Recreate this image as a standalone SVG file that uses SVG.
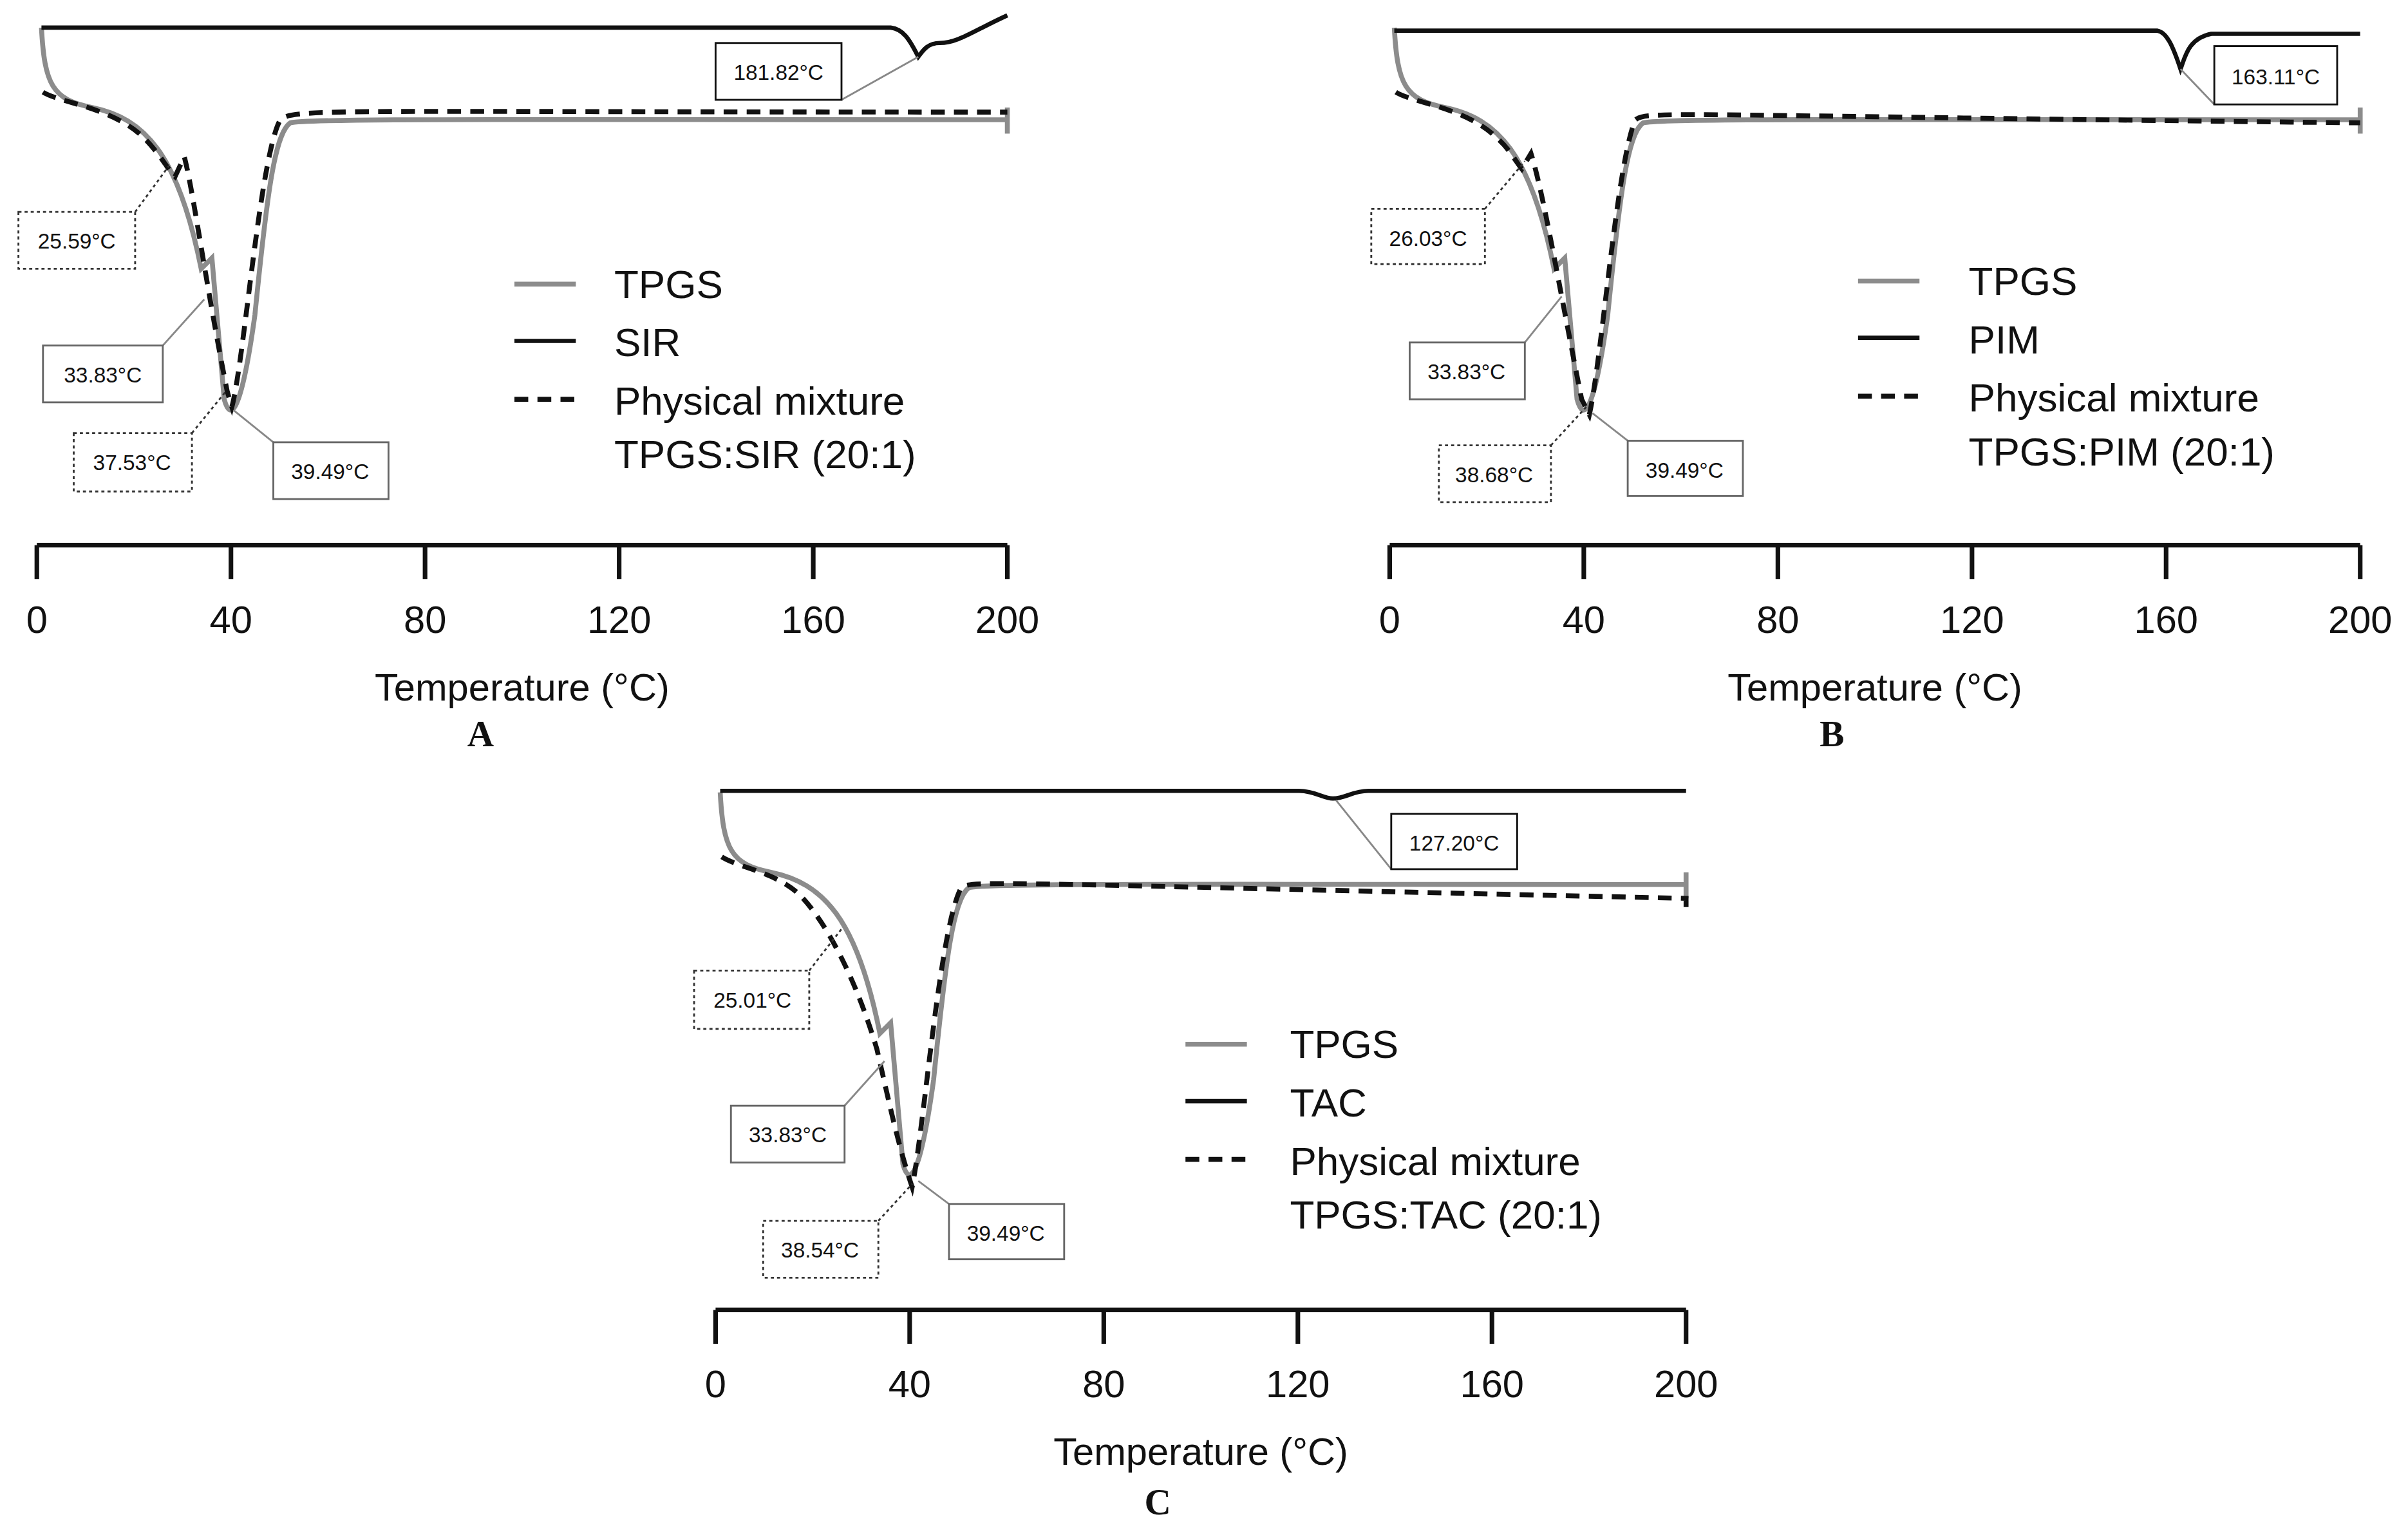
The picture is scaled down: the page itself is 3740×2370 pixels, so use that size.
<svg xmlns="http://www.w3.org/2000/svg" width="3740" height="2370" viewBox="0 0 3740 2370">
<style>
text{font-family:"Liberation Sans",Arial,sans-serif;fill:#111}
.t{font-size:25px}.lg{font-size:26px}.lb{font-size:14px}
.L{font-family:"Liberation Serif","Times New Roman",serif;font-size:24px;font-weight:bold}
.g{fill:none;stroke:#8c8c8c;stroke-width:3.2}
.k{fill:none;stroke:#111;stroke-width:2.8}
.d{fill:none;stroke:#111;stroke-width:3.2;stroke-dasharray:9 6}
.ax{fill:none;stroke:#111;stroke-width:3}
.bx{fill:#fff;stroke:#666;stroke-width:1.2}
.bk{fill:#fff;stroke:#111;stroke-width:1.2}
.bd{fill:#fff;stroke:#333;stroke-width:1.2;stroke-dasharray:2 2}
.cl{stroke:#888;stroke-width:1.2;fill:none}
.cd{stroke:#333;stroke-width:1.2;stroke-dasharray:2 2;fill:none}
</style>
<defs>
<path id="tp" d="M3,-337 C5,-300 10,-290 36,-285 C70,-278 92,-255 107,-180 L114,-187 L122,-95 C126,-80 133,-85 142,-150 C150,-230 155,-268 165,-275 C175,-278 300,-277 632,-277 M632,-285 L632,-268"/>
<g id="axis">
<path class="ax" d="M0,0 H632 M0,0 v22 M126.4,0 v22 M252.8,0 v22 M379.2,0 v22 M505.6,0 v22 M632,0 v22"/>
<g class="t" text-anchor="middle"><text x="0" y="57">0</text><text x="126.4" y="57">40</text><text x="252.8" y="57">80</text><text x="379.2" y="57">120</text><text x="505.6" y="57">160</text><text x="632" y="57">200</text></g>
<text class="t" x="316" y="101" text-anchor="middle">Temperature (°C)</text>
</g>
</defs>
<g transform="scale(2.385)">
<g id="panelA" transform="translate(24,355)">
<use href="#axis"/>
<use href="#tp" class="g"/>
<path class="d" d="M4,-295 C15,-288 50,-285 70,-265 C80,-255 85,-245 90,-240 L96,-253 C102,-230 110,-170 124,-100 L127,-90 C135,-120 145,-250 158,-276 C165,-285 175,-282 632,-282"/>
<path class="k" d="M3,-337 L556,-337 C564,-336 568,-330 574,-318 C577,-322 580,-327 588,-327 C600,-327 610,-335 632,-345"/>
<path class="cl" d="M524,-290 L574,-318"/><rect class="bk" x="442" y="-327" width="82" height="37"/><text class="lb" x="483" y="-303" text-anchor="middle">181.82°C</text>
<path class="cd" d="M64,-217 L86,-247"/><rect class="bd" x="-12" y="-217" width="76" height="37"/><text class="lb" x="26" y="-193" text-anchor="middle">25.59°C</text>
<path class="cl" d="M82,-130 L109,-160"/><rect class="bx" x="4" y="-130" width="78" height="37"/><text class="lb" x="43" y="-106" text-anchor="middle">33.83°C</text>
<path class="cd" d="M101,-73 L123,-100"/><rect class="bd" x="24" y="-73" width="77" height="38"/><text class="lb" x="62" y="-49" text-anchor="middle">37.53°C</text>
<path class="cl" d="M154,-67 L128,-88"/><rect class="bx" x="154" y="-67" width="75" height="37"/><text class="lb" x="191" y="-43" text-anchor="middle">39.49°C</text>
<g id="legA"><path class="g" d="M311,-170 h40"/><path class="k" d="M311,-133 h40"/><path class="d" d="M311,-95 h40" stroke-dasharray="8 7"/>
<text class="lg" x="376" y="-161">TPGS</text><text class="lg" x="376" y="-123">SIR</text><text class="lg" x="376" y="-85">Physical mixture</text><text class="lg" x="376" y="-50">TPGS:SIR (20:1)</text></g>
<text class="L" x="289" y="131" text-anchor="middle">A</text>
</g>
<g id="panelB" transform="translate(905,355)">
<use href="#axis"/>
<use href="#tp" class="g"/>
<path class="d" d="M4,-295 C15,-288 50,-285 70,-265 C78,-258 82,-250 86,-245 L92,-255 C100,-230 110,-170 125,-95 L130,-85 C138,-120 148,-250 160,-277 C168,-283 175,-280 632,-275"/>
<path class="k" d="M3,-335 L500,-335 C506,-334 510,-325 515,-310 C518,-318 520,-330 535,-333 L632,-333"/>
<path class="cl" d="M537,-287 L515,-310"/><rect class="bk" x="537" y="-325" width="80" height="38"/><text class="lb" x="577" y="-300" text-anchor="middle">163.11°C</text>
<path class="cd" d="M62,-219 L88,-250"/><rect class="bd" x="-12" y="-219" width="74" height="36"/><text class="lb" x="25" y="-195" text-anchor="middle">26.03°C</text>
<path class="cl" d="M88,-132 L112,-162"/><rect class="bx" x="13" y="-132" width="75" height="37"/><text class="lb" x="50" y="-108" text-anchor="middle">33.83°C</text>
<path class="cd" d="M105,-65 L128,-90"/><rect class="bd" x="32" y="-65" width="73" height="37"/><text class="lb" x="68" y="-41" text-anchor="middle">38.68°C</text>
<path class="cl" d="M155,-68 L132,-86"/><rect class="bx" x="155" y="-68" width="75" height="36"/><text class="lb" x="192" y="-44" text-anchor="middle">39.49°C</text>
<path class="g" d="M305,-172 h40"/><path class="k" d="M305,-135 h40"/><path class="d" d="M305,-97 h40" stroke-dasharray="8 7"/>
<text class="lg" x="377" y="-163">TPGS</text><text class="lg" x="377" y="-125">PIM</text><text class="lg" x="377" y="-87">Physical mixture</text><text class="lg" x="377" y="-52">TPGS:PIM (20:1)</text>
<text class="L" x="288" y="131" text-anchor="middle">B</text>
</g>
<g id="panelC" transform="translate(466,853)">
<use href="#axis"/>
<use href="#tp" class="g"/>
<path class="d" d="M4,-295 C15,-288 40,-285 55,-270 C70,-255 90,-220 105,-170 C112,-140 118,-110 128,-80 C136,-120 146,-250 160,-275 C168,-280 175,-278 632,-268 L632,-262"/>
<path class="k" d="M3,-338 L380,-338 C390,-338 396,-333 402,-333 C410,-333 415,-338 425,-338 L632,-338"/>
<path class="cl" d="M440,-287 L404,-332"/><rect class="bk" x="440" y="-323" width="82" height="36"/><text class="lb" x="481" y="-299" text-anchor="middle">127.20°C</text>
<path class="cd" d="M61,-221 L82,-248"/><rect class="bd" x="-14" y="-221" width="75" height="38"/><text class="lb" x="24" y="-197" text-anchor="middle">25.01°C</text>
<path class="cl" d="M84,-133 L110,-162"/><rect class="bx" x="10" y="-133" width="74" height="37"/><text class="lb" x="47" y="-109" text-anchor="middle">33.83°C</text>
<path class="cd" d="M106,-58 L128,-82"/><rect class="bd" x="31" y="-58" width="75" height="37"/><text class="lb" x="68" y="-34" text-anchor="middle">38.54°C</text>
<path class="cl" d="M152,-69 L132,-84"/><rect class="bx" x="152" y="-69" width="75" height="36"/><text class="lb" x="189" y="-45" text-anchor="middle">39.49°C</text>
<path class="g" d="M306,-173 h40"/><path class="k" d="M306,-136 h40"/><path class="d" d="M306,-98 h40" stroke-dasharray="8 7"/>
<text class="lg" x="374" y="-164">TPGS</text><text class="lg" x="374" y="-126">TAC</text><text class="lg" x="374" y="-88">Physical mixture</text><text class="lg" x="374" y="-53">TPGS:TAC (20:1)</text>
<text class="L" x="288" y="133" text-anchor="middle">C</text>
</g>
</g>
</svg>
